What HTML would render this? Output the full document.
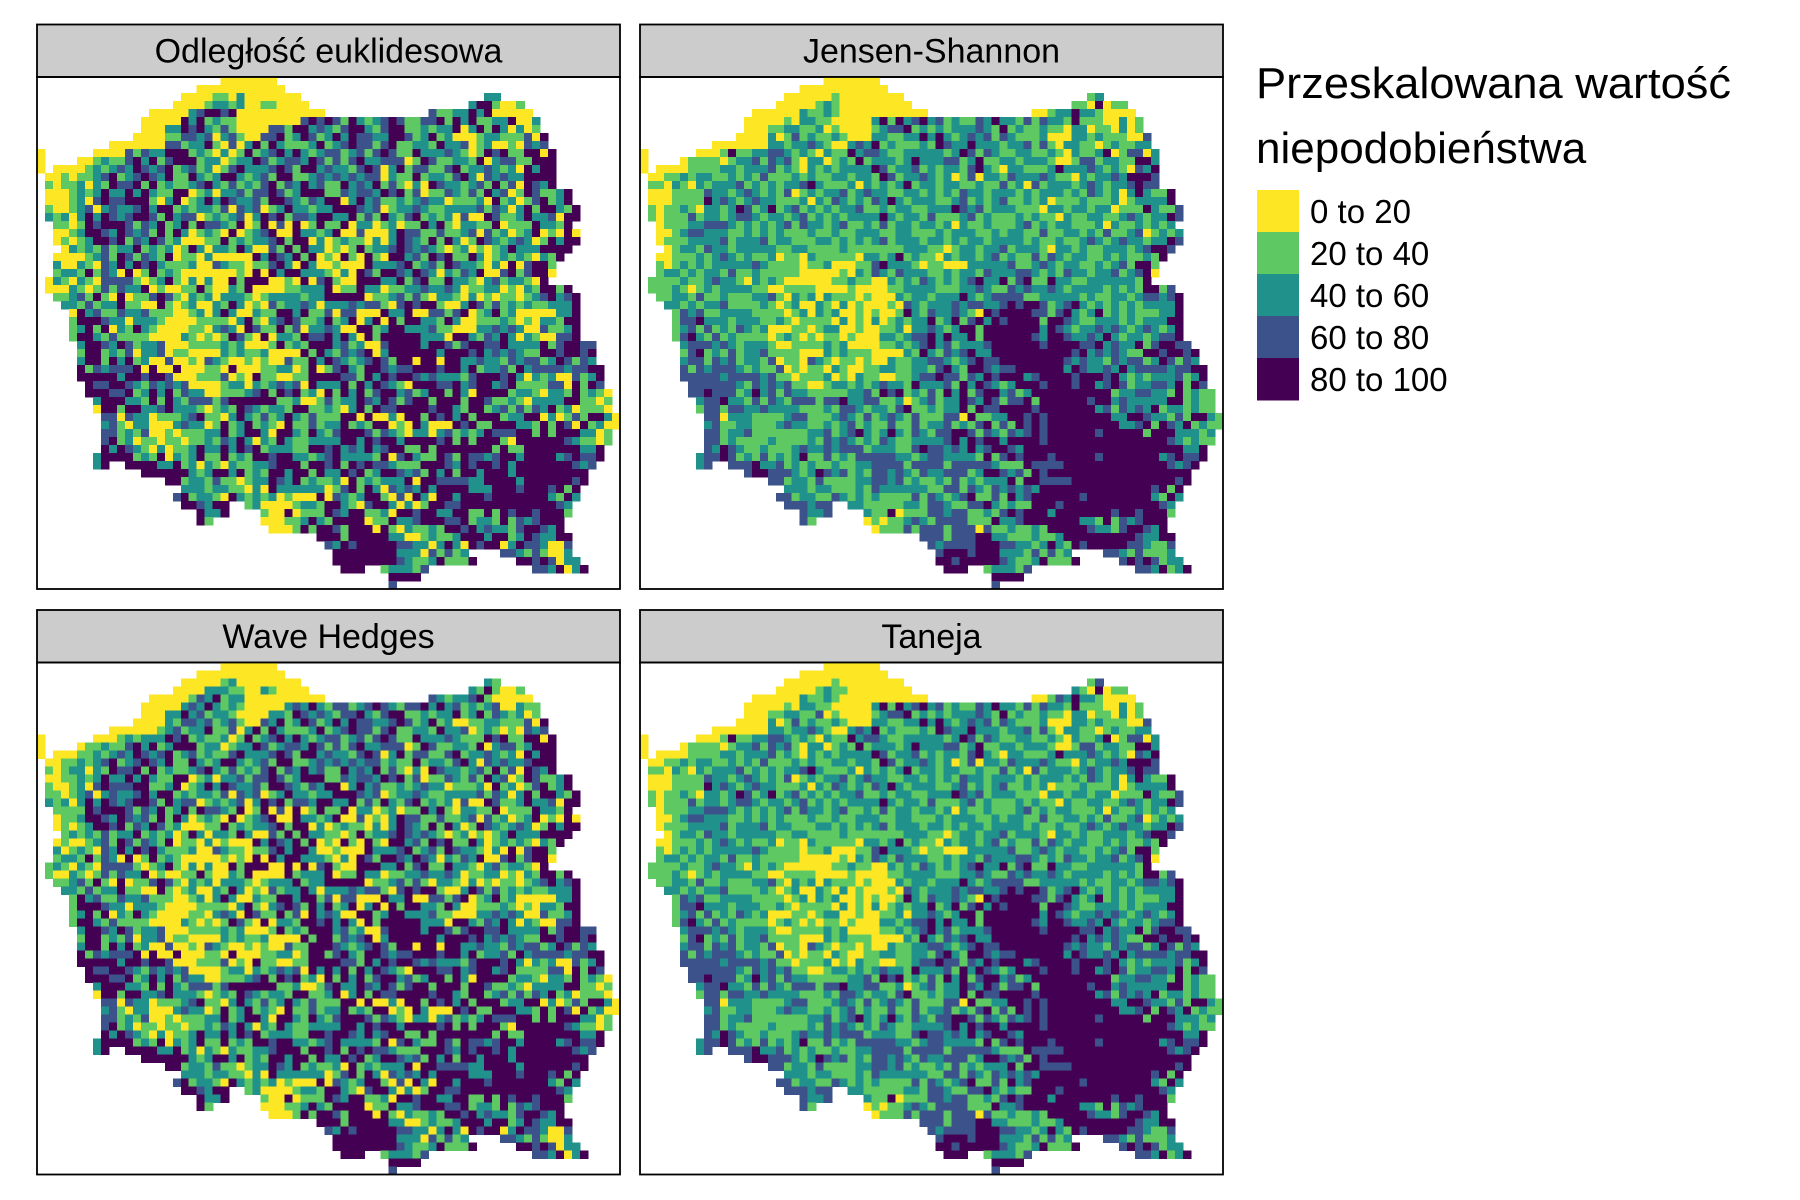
<!DOCTYPE html>
<html><head><meta charset="utf-8"><title>Przeskalowana wartość niepodobieństwa</title>
<style>
html,body{margin:0;padding:0;background:#fff;}
svg{display:block;}
text{font-family:"Liberation Sans",Arial,sans-serif;fill:#000;}
</style></head>
<body>
<svg id="chart" width="1800" height="1200" viewBox="0 0 1800 1200" xmlns="http://www.w3.org/2000/svg">
<rect x="0" y="0" width="1800" height="1200" fill="#fff"/>
<g id="panels"></g>
<g id="legend">
  <text x="1256" y="98" font-size="44" textLength="475" lengthAdjust="spacingAndGlyphs">Przeskalowana wartość</text>
  <text x="1256" y="163" font-size="44">niepodobieństwa</text>
  <g id="legend-keys"></g>
</g>
</svg>
<script>
const classLabels = ["0 to 20","20 to 40","40 to 60","60 to 80","80 to 100"];
const classColors = ["#FDE725","#5EC962","#21918C","#3B528B","#440154"];
const panelTitles = ["Odległość euklidesowa","Jensen-Shannon","Wave Hedges","Taneja"];
const gridCols = 73;
const gridRows = 64;

const valuesEuclid = [
"23|0000000","20|00000000000",
"18|000011020000000.......................22",
"17|00001221200110000....................2441001",
"14|0000023443400000000000.............3112242400000",
"13|00000424121100000000343431421234311334142411224002",
"13|00022434213100003314423213442134411212240241420201",
"12|0000113323023100334124312424332244312412000122111304",
"9|0000000331224103024142111241234331341122142230120010323",
"0|0......0000313224441210201412342421233123134311422232101434114404",
"0|0....001211342413444122012243123324313134223330143112214023311444",
"0|0.000012123243234123120134222343144232213430241331134122321204244",
"1|0010112341234324114212442123144112323232330211412213420323224444",
"1|1011202143341412112342131213413242311423241310204322123141304324",
"1|000121242242421144012022313343124441132332434130113213142301431124",
"1|000120343344410240124243223144321324402423112123220111204120134124",
"1|1001230232234244121221303230124221224443230122321122223132024144214",
"1|2120242432344314233012123024341332442241314213412120300431124223044",
"2|11014344431324124143321401403040141140220120114241022114011142214",
"2|001244324323141420121040123400422124003000243311311230312012401040",
"2|010124434132431200011412122341440201211020243214142014321232014244",
"3|0212131224121201420221420031414220101412234323210120101242224444",
"2|0000123143132140110200000424324140104104104423143411420121210214",
"2|200210324243421112003211011342042001000422234123143221020403441",
"2|122141320401412100000001040424422210204314432432021324003413440",
"1|021021033331012410202004144400104034100444224134114221023122104",
"1|000210131322401001141002140000112224011422011223223201122010214414",
"2|112314104011343102120222101222212244444011231310221020101101234234",
"3|22131224110041012002142010312232022232331034344100243131212112224",
"4|0423113223111001202420021144241130330004224003313401241200000224",
"4|1444322022210000111102410234311241240240414422142001112101022144",
"4|1241402142100001102320431141302232004412442223110002232320031124",
"4|1442131111000021010143104022143342420414444422204421324202100334",
"5|24432431223000111121200014121444231200344442443134433422224134433",
"5|14412130223011000021211200004142132340244444424443423232114434434",
"5|24414241200300103210010100311424321234314404404422322132331243132",
"5|413233340400400011040001122014013421443233444344241223142333323344",
"5|444442443443000111301041100114444331424344323222134443420212003124",
"6|43344321323230000122021232304222414243210444334234423411113304143",
"6|444334124241322001112341434120414241344231244142044441221022141210",
"7|24442214142133313444444112001312243243134414441443112102222441101",
"7|04414422342221012143212214411210241433444434421441231313241201110",
"8|33032201112341102421312421311144040020441434241444122440201314420",
"8|23102200023220141241210411312241214401042000434114442214143041200",
"8|3312130010111224124420442142134443132102202312124333441414442201",
"8|3412011011011213242021421122224424344244443414144410444444321101",
"8|424321020112422424341222114434232423441141444444414114444444224",
"7|2444412140212411412144344221234222214034211431433234424444234334",
"7|24..44442241202102112234441443414343321114443243443424444444323",
"13|44444421244241214424414224341244323142414424442444444444",
"16|44122131101224324121120412122240443333224444244444434",
"18|22212211020422222201341420323242444422244434443414",
"17|341221042121201000403212441030420442444344444442142",
"18|443244..12000012214421034420201443344444444444432",
"20|4224....100401114324411204434422441141434434441",
"20|41......00011242144440114223444334122141323444",
"29|0001414431444041021121443423221344324",
"35|44414444422001211244424412432244",
"36|3243444443322024204344024332003",
"37|44444444222031312....332131002",
"37|444444443211241114.....44343022",
"38|444..122213.............3324024",
"44|4444","44|3"
];

const valuesJensen = [
"23|0000000","20|00000000000",
"18|000000100000000.......................12",
"17|00000121000000000....................1104011",
"14|0000002112100000000000.............0012242210000",
"13|00000102211000002414234231211324221313221411100201",
"13|00011221120100001233412121222321412112110220110201",
"12|0000201312112100022112242421232313211120002212111003",
"9|0000000221223210023241211121432242221223131022110121122",
"0|0......0001411223321210211423321122222124313211221121021124013302",
"0|0....011110122313231022012141222124222331241122122210013312211442",
"0|0.000011112212223121021212222431223121221342102211124222321210324",
"1|0011212211212131112121122122143122321201302213222321102122324443",
"1|1102102122231212122342111202121241221221121131203122212321223433",
"1|000111132212321213012122312322112212121322122212122212132120242114",
"1|000111142321232211120213212132421222112312123112120111211120122224",
"1|1011210221243124123121212231121221122243231222111022122122011142113",
"1|1011131221233212212312121222242122131112312111212110211221123212243",
"2|01112233321212123132212311213122122120211211123121221112021121212",
"2|001233222112121211121121122211221112122211212211311221213112301212",
"2|011122223122231221112212121231222122121221222212112112321232212243",
"3|0122132212222211221111211111112221101221223122210221211222123443",
"2|0011121232121120110211111022124121102122123121131321221121211214",
"2|101212122222321111011200011342221011000222223112321221121231441",
"2|122121221311211111000001021321322211212213222332121322122312340",
"1|111121123221021210000001121100212132121234224134114221122222214",
"1|111210121222211001111000010000112222111223211323223212222121214413",
"2|112213112111223102120211101000212212224212333311222221211221233234",
"3|22121223111121012002102010001032122232332234344312342121212122224",
"4|1323112222111101202120010100142132232104344443313421241212111224",
"4|1334222122211210111102010201212241241342434444144321122212122244",
"4|1231312132120001101220010011202232124414444444243212232321232124",
"4|1342131211110121010110100022123342422414444443244322324212212334",
"5|2333232122210011112120000112123423122234444443444433423224134433",
"5|13412131223111100021211100002142132342244444444443423232114434434",
"5|23313231221301103210110100211223321234334444444432322132331243132",
"5|313233321211301011021001122112213421443233444444243223242333323344",
"5|333332333323110111201021100112334331324344423444434443421212223124",
"6|33333321323231100122121232214222314243212444344434423431223324143",
"6|334333124231322111112231434121314241344231244444444441223322141211",
"7|23342213132133313342233112012312243243133414444443442322222441211",
"7|13313322322221112133212213411212241433444434444444231323241221211",
"8|33022211112331112321312321311133041122443434444444422443221314421",
"8|23112211123221121231211311312231213413143434444444442234143241211",
"8|3312231111111223123421242132133443132132343444444344444144422212",
"8|3312111121111213232121321122223424344244443444444444444444321211",
"8|324321121112322323331222113433232423443244444444444444444444224",
"7|2334312131212411312133333221233222214134344434444434444444234334",
"7|23..33342231212112112233331333313333321114333344444444444443234",
"13|34433321243231213323213223331244323143444444444444444444",
"16|33122131111223323121121312122241443333444444444444434",
"18|22212211121322222211331321323232444444444444443414",
"17|331221132121211113132123411314234444443444444442142",
"18|333233..22111112213321133421211444344444444444432",
"20|3223....211401113323311213434442444444434434441",
"20|31......01011232133331114223444444422141323444",
"29|0111313331333031121121444443221344324",
"35|33313334422111211244444444432244",
"36|3233334443322124214344444332113",
"37|34443444222131312....332131112",
"37|443444443211241114.....34343122",
"38|444..122213.............3324124",
"44|4444","44|3"
];

const valuesWave = [
"23|0000000","20|00000000000",
"18|000001200000000.......................21",
"17|00002221100210000....................2141001",
"14|0000013241220000000000.............3212234100000",
"13|00000232421210000023242133123432133424231212300211",
"13|00022423122100002214323213342134411212241241321201",
"12|0000213323123100324124312424332234312412001122111304",
"9|0000001231224113024142111241234331341122142230121010323",
"0|0......0001212224341211201412342421233123134311422232111434114404",
"0|0....011211342412444122012243123324313134223330143112214023312444",
"0|0.000112123243234123121134222343144232213430241331134122321204244",
"1|0011212341234324114212442123144112323232331211412213420323223444",
"1|1012202143341412112342131213413242311423241310204322123141304324",
"1|001121242242421144012022313343124441132332434130113213142301431124",
"1|100120343334411240124243223144321324402423112123220111204120134124",
"1|1101230232234244121221303230124221224443230122321122223132024144214",
"1|2120242432344314233012123024341332442241314213412120300431124223044",
"2|11114344431324124143321401403040141140220120114241022114011142214",
"2|011244324323141420121040123400422124003010243311311230312012401040",
"2|010124434132431200011412122341440201211020243214142014321232014244",
"3|1212131224121201420221420031414221101412234323210120101242224444",
"2|0100123143132140110201000424324140104104104423143411420121210214",
"2|201210324243421112003211011342442001000422234123143221020403441",
"2|122141320401412100000101040424422210204314432432021324003413440",
"1|121021033331012410202004144400404034100444224134114221023122104",
"1|100210131322401001141002140000412224011422011223223201122010214414",
"2|112314104011343102120222101222412244444011231310221020101101234234",
"3|22131224110041012002142010312242022232331034344100243131212112224",
"4|1423113223111001202420021144244130330004224003313401241200000224",
"4|1444322022210000111102410234314241240240414422142001112101022144",
"4|1241402142100001102320431141304232004412442223110002232320031124",
"4|1442131111000021010143104022144342420414444422204421324202100334",
"5|24432431223000111121200014121444231200344442443134433422224134433",
"5|14412130223011000021211200004144132340244444424443423232114434434",
"5|24414241200300103210010100311444321234314404404422322132331243132",
"5|413233340400400011040001122014413421443233444344241223142333323344",
"5|444442443443000111301041100114444331424344323222134443420212003124",
"6|43344321323230000122021232304242414243210444334234423411113304143",
"6|444334124241322001112341434120414241344231244142044441221022141210",
"7|24442214142133313444444112001342243243134414441443112102222441101",
"7|04414422342221012143212214411240241433444434421441231313241201110",
"8|33032201112341102421312421311144040020441434241444122440201314420",
"8|23102200023220141241210411312241214401042000434114442214143041200",
"8|3312130010111224124420442142134443132102202312124333441414442201",
"8|3412011011011213242021421122224424344244443414144410444444321101",
"8|424321020112422424341222114434432423441141444444414114444444224",
"7|2444412140212411412144344221234222214034211431433234424444234334",
"7|24..44442241202102112234441443414343321114443243443424444444323",
"13|44444421244241214424414224341244323142414424442444444444",
"16|44122131101224324121120412122240443333224444244444434",
"18|22212211020422222201341420323242444422244434443414",
"17|341221042121201000403212441030420442444344444442142",
"18|443244..12000012214421034420201443344444444444432",
"20|4224....100401114324411204434422441141434434441",
"20|41......00011242144440114223444334122141323444",
"29|0001414431444041021121443423221344324",
"35|44414444422001211244424412432244",
"36|3243444443322024204344024332003",
"37|44444444222031312....332131002",
"37|444444443211241114.....44343022",
"38|444..122213.............3324024",
"44|4444","44|3"
];

const valuesTaneja = [
"23|0000000","20|00000000000",
"18|000000100000000.......................13",
"17|00000121100000000....................2104011",
"14|0000002112100000000000.............0013242210000",
"13|00000102211000002414234231211324221313221411100201",
"13|00011221130100001233412121222321412112110220110201",
"12|0000201312112100022112242421232313211120002212111003",
"9|0000000221223210023241211121432242221223131022110121122",
"0|0......0001411223321210211423321122222124313211221121021124013302",
"0|0....011110122313231022012141222124222331241122122210013312211442",
"0|0.000011112212223121021212222431223121221342102211124222321210324",
"1|0011212211212131112121122122143122321201302213222321102122324443",
"1|1102102122231212122342111202121241221221121131203122212321223433",
"1|000111132212321213012122312322112212121322122212122212132120242114",
"1|000111142321232211120213212132421222112312123112120111211120122224",
"1|1011210221243124123121212231121221122243231222111022122122011142113",
"1|1011131221233212212312121222242122131112312111212110211221123212243",
"2|01112233321212123132212311213122122120211211123121221112021121212",
"2|001233222112121211121121122211221112122211212211311221213112301212",
"2|011122223122231221112212121231222122121221222212112112321232212243",
"3|0122132212222211221111211111112221101221223122210221211222123443",
"2|0011121232121120110211111022124121102122123121131321221121211214",
"2|101212122222321111011200011342221011000222223112321221121231441",
"2|122121221311211111000001021321322211212213222332121322122312340",
"1|111121123221021210000001121100212132121234224134114221122222214",
"1|111210121222211001111000010000112222111223211323223212222121214413",
"2|112213112111223102120211101000212212224212333311222221211221233234",
"3|22121223111121012002102010001032122232332234344312342121212122224",
"4|1323112222111101202120010100142132232104344443313421241212111224",
"4|1334222122211210111102010201212241241342434444144321122212122244",
"4|1231312132120001101220010011202232124414444444243212232321232124",
"4|1342131211110121010110100022123342422414444443244322324212212334",
"5|2333232122210011112120000112123423122234444443444433423224134433",
"5|13412131223111100021211100002142132342244444444443423232114434434",
"5|23313231221301103210110100211223321234334444444432322132331243132",
"5|313233321211301011021001122112213421443233444444243223242333323344",
"5|333332333323110111201021100112334331324344423444434443421212223124",
"6|33333321323231100122121232214222314243212444344434423431223324143",
"6|334333124231322111112231434121314241344231244444444441223322141211",
"7|23342213132133313342233112012312243243133414444443442322222441211",
"7|13313322322221112133212213411212241433444434444444231323241221211",
"8|33022211112331112321312321311133041122443434444444422443221314421",
"8|23112211123221121231211311312231213413143434444444442234143241211",
"8|3312231111111223123421242132133443132132343444444344444144422212",
"8|3312111121111213232121321122223424344244443444444444444444321211",
"8|324321121112322323331222113433232423443244444444444444444444224",
"7|2334312131212411312133333221233222214134344434444434444444234334",
"7|23..33342231212112112233331333313333321114333344444444444443234",
"13|34433321243231213323213223331244323143444444444444444444",
"16|33122131111223323121121312122241443333444444444444434",
"18|22212211121322222211331321323232444444444444443414",
"17|331221132121211113132123411314234444443444444442142",
"18|333233..22111112213321133421211444344444444444432",
"20|3223....211401113323311213434442444444434434441",
"20|31......01011232133331114223444444422141323444",
"29|0111313331333031121121444443221344324",
"35|33313334422111211244444444432244",
"36|3233334443322124214344444332113",
"37|34443444222131312....332131112",
"37|443444443211241114.....34343122",
"38|444..122213.............3324124",
"44|4444","44|3"
];

const panelValues = [valuesEuclid, valuesJensen, valuesWave, valuesTaneja];

(function(){
  const NS = "http://www.w3.org/2000/svg";
  const panelsG = document.getElementById("panels");
  const colX = [37, 640];
  const rowStripTop = [24.5, 610];
  const stripH = 52.5;
  const panelW = 583;
  const panelH = 512;
  const cw = panelW / gridCols;
  const ch = panelH / gridRows;
  const slugs = ["euclidean","jensen-shannon","wave-hedges","taneja"];

  function xScale(px, col){ return px + col * cw; }
  function yScale(py, row){ return py + row * ch; }

  panelTitles.forEach(function(title, p){
    const px = colX[p % 2];
    const st = rowStripTop[Math.floor(p / 2)];
    const py = st + stripH;
    const g = document.createElementNS(NS, "g");
    
    
    panelsG.appendChild(g);

    const strip = document.createElementNS(NS, "rect");
    
    
    strip.setAttribute("x", px); strip.setAttribute("y", st);
    strip.setAttribute("width", panelW); strip.setAttribute("height", stripH);
    strip.setAttribute("fill", "#CCCCCC"); strip.setAttribute("stroke", "#000"); strip.setAttribute("stroke-width", "1.8");
    g.appendChild(strip);

    const t = document.createElementNS(NS, "text");
    
    
    t.setAttribute("x", px + panelW / 2); t.setAttribute("y", st + 38);
    t.setAttribute("text-anchor", "middle"); t.setAttribute("font-size", "34");
    t.textContent = title;
    g.appendChild(t);

    const cells = document.createElementNS(NS, "g");
    
    
    cells.setAttribute("shape-rendering", "crispEdges");
    g.appendChild(cells);
    const rows = panelValues[p];
    rows.forEach(function(line, r){
      const parts = line.split("|");
      const start = parseInt(parts[0], 10);
      const s = parts[1];
      for (let i = 0; i < s.length; i++){
        const c = s.charAt(i);
        if (c === ".") continue;
        const v = parseInt(c, 10);
        const col = start + i;
        if (col >= gridCols) continue;
        const rect = document.createElementNS(NS, "rect");
        
        
        rect.setAttribute("x", xScale(px, col).toFixed(2));
        rect.setAttribute("y", yScale(py, r).toFixed(2));
        rect.setAttribute("width", (cw + 0.6).toFixed(2));
        rect.setAttribute("height", (ch + 0.6).toFixed(2));
        rect.setAttribute("fill", classColors[v]);
        cells.appendChild(rect);
      }
    });

    const frame = document.createElementNS(NS, "rect");
    
    
    frame.setAttribute("x", px); frame.setAttribute("y", py);
    frame.setAttribute("width", panelW); frame.setAttribute("height", panelH);
    frame.setAttribute("fill", "none"); frame.setAttribute("stroke", "#000"); frame.setAttribute("stroke-width", "1.8");
    g.appendChild(frame);
  });

  const lk = document.getElementById("legend-keys");
  classLabels.forEach(function(lab, i){
    const kg = document.createElementNS(NS, "g");
    
    
    lk.appendChild(kg);
    const r = document.createElementNS(NS, "rect");
    
    
    r.setAttribute("x", 1257); r.setAttribute("y", 190 + i * 42);
    r.setAttribute("width", 42); r.setAttribute("height", 42.5);
    r.setAttribute("fill", classColors[i]);
    kg.appendChild(r);
    const t = document.createElementNS(NS, "text");
    
    
    t.setAttribute("x", 1310); t.setAttribute("y", 223 + i * 42);
    t.setAttribute("font-size", "33");
    t.textContent = lab;
    kg.appendChild(t);
  });
})();
</script>
</body></html>
